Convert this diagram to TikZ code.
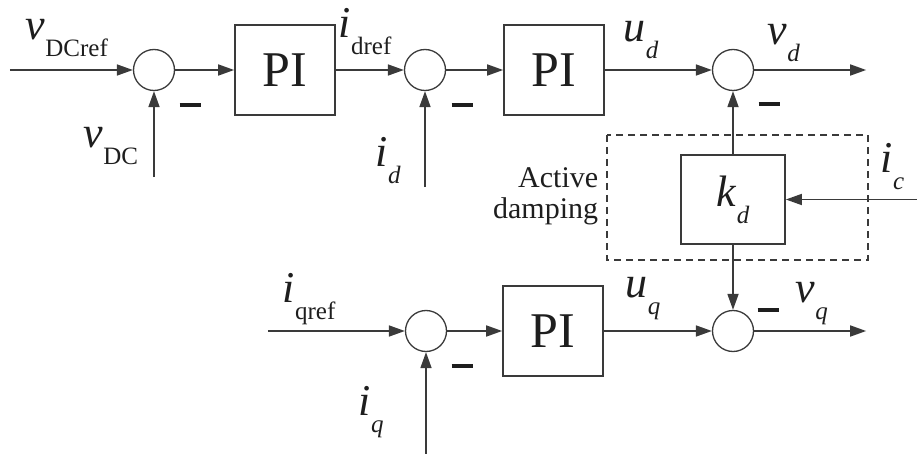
\documentclass[tikz,border=0pt]{standalone}
\usepackage{fontspec}
\setmainfont{Liberation Serif}
\usetikzlibrary{positioning,arrows.meta}

\definecolor{wire}{HTML}{3A3A3A}
\definecolor{ink}{HTML}{1E1E1E}

% signal name: big italic letter with a lowered index
\newcommand{\sig}[2]{{\fontsize{44}{44}\selectfont\textit{#1}}\raisebox{-17pt}{\fontsize{25}{25}\selectfont #2}}
\newcommand{\negsign}{\rule{21pt}{3.5pt}}

\begin{document}
\begin{tikzpicture}[x=1pt,y=-1pt,color=wire,line width=1.7pt,
  >={Triangle[length=16pt,width=11pt]}]
\tikzstyle{every node}+=[text=ink]
\tikzstyle{every edge}+=[->]
\tikzstyle{sum}=[draw,circle,minimum size=41pt,inner sep=0pt,line width=1.3pt]
\tikzstyle{block}=[draw,minimum width=100pt,minimum height=90pt,inner sep=0pt,font=\fontsize{50}{50}\selectfont]
\tikzstyle{lbl}=[anchor=base west,inner sep=0pt]
\tikzstyle{neg}=[inner sep=0pt]

\useasboundingbox (0,0) rectangle (917,454);

% d axis
\node[sum]   (s1) at (154,70)        {};
\node[block] (pi1) [right=59pt of s1] {PI};
\node[sum]   (s2)  [right=68pt of pi1] {};
\node[block] (pi2) [right=57pt of s2] {PI};
\node[sum]   (s3)  [right=107pt of pi2] {};
% damping
\node[block,minimum width=104pt,minimum height=89pt] (kd) [below=63pt of s3] {\sig{k}{\textit{d}}};
% q axis
\node[sum]   (s4)  [below=65pt of kd]  {};
\node[block] (pi3) [left=108pt of s4]  {PI};
\node[sum]   (s5)  [left=55pt of pi3]  {};

\coordinate (vref)  at ([xshift=-123pt]s1.west);
\coordinate (vdcin) at ([yshift=-86pt]s1.south);
\coordinate (idin)  at ([yshift=-96pt]s2.south);
\coordinate (vdout) at ([xshift=112pt]s3.east);
\coordinate (icin)  at ([xshift=141pt]kd.east);
\coordinate (iqref) at ([xshift=-137pt]s5.west);
\coordinate (iqin)  at ([yshift=-106pt]s5.south);
\coordinate (vqout) at ([xshift=112pt]s4.east);

\path (vref)  edge (s1)
      (vdcin) edge (s1)
      (s1)    edge (pi1)
      (pi1)   edge (s2)
      (idin)  edge (s2)
      (s2)    edge (pi2)
      (pi2)   edge (s3)
      (s3)    edge (vdout)
      (kd)    edge (s3)
      (icin)  edge (kd)
      (kd)    edge (s4)
      (iqref) edge (s5)
      (iqin)  edge (s5)
      (s5)    edge (pi3)
      (pi3)   edge (s4)
      (s4)    edge (vqout);

% minus signs
\node[neg] (m1) at ([shift={(36,35)}]s1.center)  {\negsign};
\node[neg] (m2) at ([shift={(37,35)}]s2.center)  {\negsign};
\node[neg] (m3) at ([shift={(36,34)}]s3.center)  {\negsign};
\node[neg] (m4) at ([shift={(35,-21)}]s4.center) {\negsign};
\node[neg] (m5) at ([shift={(36,35)}]s5.center)  {\negsign};

% signal names
\node[lbl] (l1)  at (25,40)   {\sig{v}{DCref}};
\node[lbl] (l2)  at (83,148)  {\sig{v}{DC}};
\node[lbl] (l3)  at (338,38)  {\sig{i}{dref}};
\node[lbl] (l4)  at (375,167) {\sig{i}{\textit{d}}};
\node[lbl] (l5)  at (623,42)  {\sig{u}{\textit{d}}};
\node[lbl] (l6)  at (767,45)  {\sig{v}{\textit{d}}};
\node[lbl] (l7)  at (880,173) {\sig{i}{\textit{c}}};
\node[lbl] (l8)  at (282,302) {\sig{i}{qref}};
\node[lbl] (l9)  at (358,415) {\sig{i}{\textit{q}}};
\node[lbl] (l10) at (625,297) {\sig{u}{\textit{q}}};
\node[lbl] (l11) at (795,302) {\sig{v}{\textit{q}}};

% active damping frame
\draw[line width=1.3pt,dash pattern=on 7pt off 5pt] (607,135) rectangle (868,260);
\node (ad) [anchor=east,align=right,inner sep=0pt,font=\fontsize{30}{31}\selectfont] at (599,196) {Active\\damping};
\end{tikzpicture}
\end{document}
